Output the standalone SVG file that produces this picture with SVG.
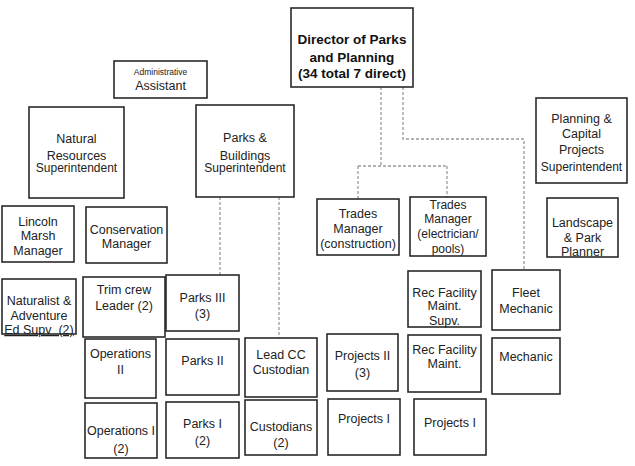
<svg xmlns="http://www.w3.org/2000/svg" width="635" height="466" viewBox="0 0 635 466">
<style>
rect{fill:#fff;stroke:#2a2a2a;stroke-width:1.6}
text{font-family:"Liberation Sans",Arial,sans-serif;font-size:12.5px;fill:#222;text-anchor:middle}
.b{font-weight:bold;font-size:13.5px;fill:#111}
.s{font-size:12px}
.xs{font-size:8.5px}
.u{text-decoration:underline}
.c{fill:none;stroke:#9a9a9a;stroke-width:1.3;stroke-dasharray:3 2}
</style>
<rect x="0" y="0" width="635" height="466" style="fill:#fff;stroke:none"/>
<g id="connectors">
<path class="c" d="M381,87 V166 M358,166 H447 M358,166 V199 M447,166 V197"/>
<path class="c" d="M403,87 V139 H524 V270"/>
<path class="c" d="M220,197 V275"/>
<path class="c" d="M279,197 V338"/>
</g>
<g id="director"><rect x="291" y="8" width="122" height="79"/><text class="b" x="352" y="44">Director of Parks</text><text class="b" x="352" y="62">and Planning</text><text class="b" x="352" y="77.5">(34 total 7 direct)</text></g>
<g id="admin"><rect x="114" y="61" width="93" height="37"/><text class="xs" x="160.5" y="75">Administrative</text><text x="160.5" y="89.5">Assistant</text></g>
<g id="natres"><rect x="29" y="107" width="95" height="91"/><text x="76.5" y="142.5">Natural</text><text x="76.5" y="159.5">Resources</text><text class="s" x="76.5" y="172">Superintendent</text></g>
<g id="parksbld"><rect x="196" y="105" width="98" height="92"/><text x="245" y="141.5">Parks &amp;</text><text x="245" y="159.5">Buildings</text><text class="s" x="245" y="172">Superintendent</text></g>
<g id="planning"><rect x="536" y="98" width="91" height="85"/><text x="581.5" y="122.5">Planning &amp;</text><text x="581.5" y="137.5">Capital</text><text x="581.5" y="153.5">Projects</text><text class="s" x="581.5" y="171">Superintendent</text></g>
<g id="trades1"><rect x="317" y="199" width="82" height="56"/><text x="358" y="217.5">Trades</text><text x="358" y="232.5">Manager</text><text x="358" y="247.5">(construction)</text></g>
<g id="trades2"><rect x="410" y="197" width="76" height="59"/><text class="s" x="448" y="208.5">Trades</text><text class="s" x="448" y="222.5">Manager</text><text class="s" x="448" y="237.5">(electrician/</text><text class="s" x="448" y="252.5">pools)</text></g>
<g id="landscape"><rect x="547" y="198" width="71" height="59"/><text x="582.5" y="226.5">Landscape</text><text x="582.5" y="241.5">&amp; Park</text><text x="582.5" y="255.5">Planner</text></g>
<g id="lincoln"><rect x="2" y="206" width="72" height="56"/><text x="38" y="225.5">Lincoln</text><text x="38" y="240">Marsh</text><text x="38" y="254.5">Manager</text></g>
<g id="conservation"><rect x="86" y="207" width="81" height="56"/><text x="126.5" y="233.5">Conservation</text><text x="126.5" y="247.5">Manager</text></g>
<g id="naturalist"><rect x="2" y="279" width="74" height="55"/><text x="39" y="304.5">Naturalist &amp;</text><text x="39" y="319.5">Adventure</text><text class="u" x="39" y="334" xml:space="preserve">Ed Supv  (2)</text></g>
<g id="trim"><rect x="83" y="277" width="82" height="60"/><text x="124" y="293.5">Trim crew</text><text x="124" y="309.5">Leader (2)</text></g>
<g id="ops2"><rect x="85" y="339" width="71" height="59"/><text x="120.5" y="357.5">Operations</text><text x="120.5" y="373.5">II</text></g>
<g id="ops1"><rect x="85" y="403" width="72" height="55"/><text x="121" y="434.5">Operations I</text><text x="121" y="452.5">(2)</text></g>
<g id="parks3"><rect x="166" y="275" width="73" height="56"/><text x="202.5" y="301.5">Parks III</text><text x="202.5" y="317.5">(3)</text></g>
<g id="parks2"><rect x="166" y="339" width="73" height="56"/><text x="202.5" y="364.5">Parks II</text></g>
<g id="parks1"><rect x="166" y="402" width="73" height="56"/><text x="202.5" y="427.5">Parks I</text><text x="202.5" y="444.5">(2)</text></g>
<g id="leadcc"><rect x="245" y="338" width="72" height="59"/><text x="281" y="358.5">Lead CC</text><text x="281" y="373.5">Custodian</text></g>
<g id="custodians"><rect x="245" y="400" width="72" height="55"/><text x="281" y="430.5">Custodians</text><text x="281" y="446.5">(2)</text></g>
<g id="projects2"><rect x="327" y="334" width="71" height="57"/><text x="362.5" y="359.5">Projects II</text><text x="362.5" y="376.5">(3)</text></g>
<g id="projects1a"><rect x="328" y="399" width="72" height="56"/><text x="364" y="422.5">Projects I</text></g>
<g id="recsupv"><rect x="408" y="271" width="73" height="56"/><text x="444.5" y="296.5">Rec Facility</text><text x="444.5" y="309.5">Maint.</text><text x="444.5" y="324.5">Supv.</text></g>
<g id="recmaint"><rect x="408" y="335" width="73" height="57"/><text x="444.5" y="353.5">Rec Facility</text><text x="444.5" y="367.5">Maint.</text></g>
<g id="projects1b"><rect x="414" y="399" width="72" height="56"/><text x="450" y="426.5">Projects I</text></g>
<g id="fleet"><rect x="492" y="270" width="68" height="60"/><text x="526" y="296.5">Fleet</text><text x="526" y="312.5">Mechanic</text></g>
<g id="mechanic"><rect x="492" y="338" width="68" height="56"/><text x="526" y="361">Mechanic</text></g>
</svg>
